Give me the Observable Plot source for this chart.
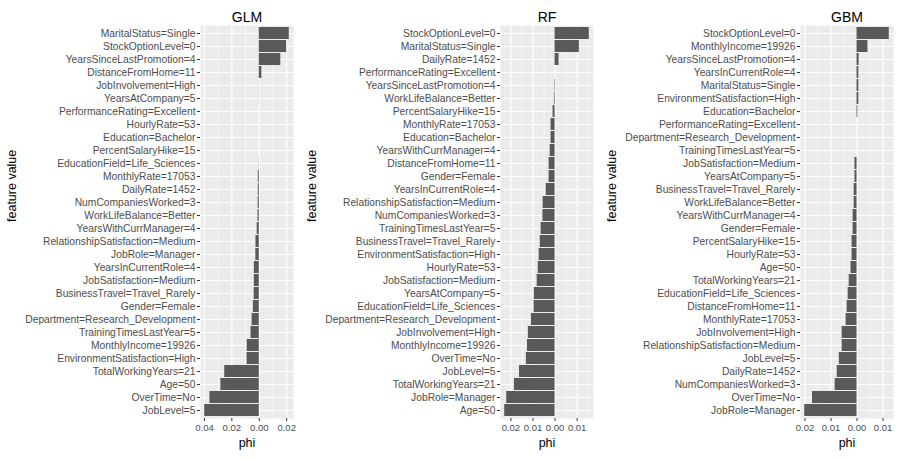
<!DOCTYPE html>
<html>
<head>
<meta charset="utf-8">
<script src="https://cdn.jsdelivr.net/npm/d3@7"></script>
<script src="https://cdn.jsdelivr.net/npm/@observablehq/plot@0.6"></script>
<style>
  html, body { margin: 0; padding: 0; background: white; }
  #chart { display: flex; flex-direction: row; width: 900px; height: 458px; }
  #chart svg { display: block; }
</style>
</head>
<body>
<div id="chart"></div>
<script>
const panelTitles = ["GLM", "RF", "GBM"];

const glmFeatures = ["MaritalStatus=Single","StockOptionLevel=0","YearsSinceLastPromotion=4","DistanceFromHome=11","JobInvolvement=High","YearsAtCompany=5","PerformanceRating=Excellent","HourlyRate=53","Education=Bachelor","PercentSalaryHike=15","EducationField=Life_Sciences","MonthlyRate=17053","DailyRate=1452","NumCompaniesWorked=3","WorkLifeBalance=Better","YearsWithCurrManager=4","RelationshipSatisfaction=Medium","JobRole=Manager","YearsInCurrentRole=4","JobSatisfaction=Medium","BusinessTravel=Travel_Rarely","Gender=Female","Department=Research_Development","TrainingTimesLastYear=5","MonthlyIncome=19926","EnvironmentSatisfaction=High","TotalWorkingYears=21","Age=50","OverTime=No","JobLevel=5"];
const glmPhi = [0.0219,0.0200,0.0157,0.0019,0.0001,0.0001,0,0,0,0,-0.0001,-0.0007,-0.0007,-0.0008,-0.0009,-0.0015,-0.0024,-0.0025,-0.0036,-0.0036,-0.0037,-0.0043,-0.0052,-0.0060,-0.0088,-0.0089,-0.0252,-0.0280,-0.0360,-0.0398];

const rfFeatures = ["StockOptionLevel=0","MaritalStatus=Single","DailyRate=1452","PerformanceRating=Excellent","YearsSinceLastPromotion=4","WorkLifeBalance=Better","PercentSalaryHike=15","MonthlyRate=17053","Education=Bachelor","YearsWithCurrManager=4","DistanceFromHome=11","Gender=Female","YearsInCurrentRole=4","RelationshipSatisfaction=Medium","NumCompaniesWorked=3","TrainingTimesLastYear=5","BusinessTravel=Travel_Rarely","EnvironmentSatisfaction=High","HourlyRate=53","JobSatisfaction=Medium","YearsAtCompany=5","EducationField=Life_Sciences","Department=Research_Development","JobInvolvement=High","MonthlyIncome=19926","OverTime=No","JobLevel=5","TotalWorkingYears=21","JobRole=Manager","Age=50"];
const rfPhi = [0.0155,0.0110,0.0018,0,-0.0002,-0.0003,-0.0009,-0.0018,-0.0018,-0.0022,-0.0027,-0.0027,-0.0040,-0.0054,-0.0055,-0.0063,-0.0067,-0.0072,-0.0076,-0.0081,-0.0094,-0.0095,-0.0107,-0.0121,-0.0125,-0.0130,-0.0161,-0.0184,-0.0219,-0.0228];

const gbmFeatures = ["StockOptionLevel=0","MonthlyIncome=19926","YearsSinceLastPromotion=4","YearsInCurrentRole=4","MaritalStatus=Single","EnvironmentSatisfaction=High","Education=Bachelor","PerformanceRating=Excellent","Department=Research_Development","TrainingTimesLastYear=5","JobSatisfaction=Medium","YearsAtCompany=5","BusinessTravel=Travel_Rarely","WorkLifeBalance=Better","YearsWithCurrManager=4","Gender=Female","PercentSalaryHike=15","HourlyRate=53","Age=50","TotalWorkingYears=21","EducationField=Life_Sciences","DistanceFromHome=11","MonthlyRate=17053","JobInvolvement=High","RelationshipSatisfaction=Medium","JobLevel=5","DailyRate=1452","NumCompaniesWorked=3","OverTime=No","JobRole=Manager"];
const gbmPhi = [0.0124,0.0042,0.0008,0.0007,0.0007,0.0007,0.0003,0,0,0,-0.0008,-0.0008,-0.0011,-0.0011,-0.0015,-0.0015,-0.0019,-0.0019,-0.0023,-0.0030,-0.0034,-0.0038,-0.0042,-0.0057,-0.0057,-0.0068,-0.0076,-0.0084,-0.0171,-0.0201];

const glmTicks = [-0.04, -0.02, 0, 0.02];
const rfTicks = [-0.02, -0.01, 0, 0.01];
const gbmTicks = [-0.02, -0.01, 0, 0.01];

const xLabel = "phi";
const yLabel = "feature value";

const FONT = "'Liberation Sans', Arial, Helvetica, sans-serif";

function panel(title, feats, vals, ticks) {
  const data = feats.map((f, i) => ({feature: f, phi: vals[i]}));
  const lo = Math.min(0, d3.min(vals)), hi = Math.max(0, d3.max(vals));
  const pad = (hi - lo) * 0.05;
  const domain = [lo - pad, hi + pad];
  const step = ticks[1] - ticks[0];
  const minor = [ticks[0] - step / 2, ...ticks.map(t => t + step / 2)]
    .filter(v => v >= domain[0] && v <= domain[1]);
  return Plot.plot({
    width: 300,
    height: 458,
    marginLeft: 200,
    marginRight: 7,
    marginTop: 25,
    marginBottom: 40,
    style: {background: "white", fontFamily: FONT, overflow: "visible"},
    x: {domain, label: null},
    y: {domain: feats, label: null, paddingInner: 0.1, paddingOuter: 0.15},
    marks: [
      Plot.frame({fill: "#EBEBEB", stroke: null}),
      Plot.ruleX(minor, {stroke: "white", strokeWidth: 0.6}),
      Plot.ruleX(ticks, {stroke: "white", strokeWidth: 1.2}),
      Plot.gridY({stroke: "white", strokeOpacity: 1, strokeWidth: 1.2}),
      Plot.barX(data, {x: "phi", y: "feature", fill: "#595959"}),
      Plot.axisY({tickSize: 3, tickPadding: 2, fontSize: 10.3, stroke: "#333333", fill: "#4D4D4D", label: null}),
      Plot.axisX({ticks, tickFormat: d => Math.abs(d).toFixed(2), tickSize: 3, tickPadding: 3, fontSize: 9.5, stroke: "#333333", fill: "#4D4D4D", label: null}),
      Plot.text([title], {frameAnchor: "top", dy: -13, fontSize: 14, fill: "black"}),
      Plot.text([xLabel], {frameAnchor: "bottom", dy: 28, fontSize: 12.5, fill: "black"}),
      Plot.text([yLabel], {frameAnchor: "left", dx: -189, rotate: -90, fontSize: 12.5, fill: "black"})
    ]
  });
}

const chart = document.getElementById("chart");
chart.appendChild(panel(panelTitles[0], glmFeatures, glmPhi, glmTicks));
chart.appendChild(panel(panelTitles[1], rfFeatures, rfPhi, rfTicks));
chart.appendChild(panel(panelTitles[2], gbmFeatures, gbmPhi, gbmTicks));
</script>
</body>
</html>
